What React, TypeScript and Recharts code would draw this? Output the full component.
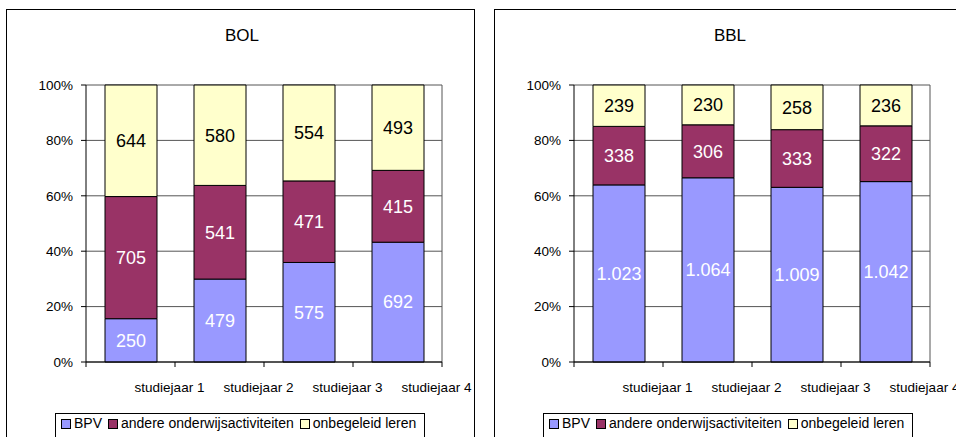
import { Bar, BarChart, CartesianGrid, LabelList, XAxis, YAxis } from "recharts";

const categories = ["studiejaar 1", "studiejaar 2", "studiejaar 3", "studiejaar 4"];
const yTicks = [0, 0.2, 0.4, 0.6, 0.8, 1];

const bolBpv = [250, 479, 575, 692];
const bolAndere = [705, 541, 471, 415];
const bolOnbegeleid = [644, 580, 554, 493];

const bblBpv = [1023, 1064, 1009, 1042];
const bblAndere = [338, 306, 333, 322];
const bblOnbegeleid = [239, 230, 258, 236];

const seriesNames = ["BPV", "andere onderwijsactiviteiten", "onbegeleid leren"];
const colors = ["#9999FF", "#993366", "#FFFFCC"];

const FONT = "'Liberation Sans', Arial, sans-serif";

function nl(v: any) {
  const n = Number(v);
  return String(n).replace(/\B(?=(\d{3})+(?!\d))/g, ".");
}

function XTick(props: any) {
  const { x, y, payload, index, band } = props;
  const half = band / 2;
  return (
    <g>
      <line x1={x - half} x2={x - half} y1={y} y2={y + 5} stroke="#000" />
      {index === categories.length - 1 && (
        <line x1={x + half} x2={x + half} y1={y} y2={y + 5} stroke="#000" />
      )}
      <text
        x={x + 39}
        y={y + 30}
        textAnchor="middle"
        fontSize={13.5}
        fontFamily={FONT}
        fill="#000"
      >
        {payload.value}
      </text>
    </g>
  );
}

function Panel({
  title,
  left,
  bpv,
  andere,
  onbegeleid,
}: {
  title: string;
  left: number;
  bpv: number[];
  andere: number[];
  onbegeleid: number[];
}) {
  const data = categories.map((c, i) => ({
    name: c,
    bpv: bpv[i],
    andere: andere[i],
    onbegeleid: onbegeleid[i],
  }));
  const plotWidth = 356;
  const band = plotWidth / categories.length;
  return (
    <div style={{ position: "absolute", left, top: 0, width: 480, height: 437 }}>
      <div
        style={{
          position: "absolute",
          left: 6,
          top: 9,
          width: 469,
          height: 440,
          border: "1px solid #000",
          boxSizing: "border-box",
        }}
      />
      <div
        style={{
          position: "absolute",
          left: 0,
          width: 484,
          top: 26,
          textAlign: "center",
          fontFamily: FONT,
          fontSize: 17,
          lineHeight: "20px",
        }}
      >
        {title}
      </div>
      <div style={{ position: "absolute", left: 0, top: 0 }}>
        <BarChart
          width={480}
          height={437}
          data={data}
          stackOffset="expand"
          barSize={52}
          margin={{ top: 85, right: 38, bottom: 45, left: 0 }}
        >
          <CartesianGrid
            stroke="#555"
            verticalCoordinatesGenerator={({ offset }: any) => [offset.left + offset.width]}
          />
          <XAxis
            dataKey="name"
            axisLine={{ stroke: "#000" }}
            tickLine={false}
            tickSize={0}
            tickMargin={0}
            height={30}
            interval={0}
            tick={(p: any) => <XTick {...p} band={band} />}
          />
          <YAxis
            width={86}
            ticks={yTicks}
            domain={[0, 1]}
            tickFormatter={(v) => `${Math.round(v * 100)}%`}
            axisLine={{ stroke: "#000" }}
            tickLine={{ stroke: "#000" }}
            tickSize={5}
            tickMargin={8}
            tick={{ fill: "#000", fontSize: 13.5, fontFamily: FONT }}
          />
          <Bar dataKey="bpv" stackId="a" fill={colors[0]} stroke="#000" isAnimationActive={false}>
            <LabelList
              dataKey="bpv"
              position="center"
              formatter={nl}
              fill="#fff"
              fontSize={18}
              fontFamily={FONT}
            />
          </Bar>
          <Bar dataKey="andere" stackId="a" fill={colors[1]} stroke="#000" isAnimationActive={false}>
            <LabelList
              dataKey="andere"
              position="center"
              formatter={nl}
              fill="#fff"
              fontSize={18}
              fontFamily={FONT}
            />
          </Bar>
          <Bar
            dataKey="onbegeleid"
            stackId="a"
            fill={colors[2]}
            stroke="#000"
            isAnimationActive={false}
          >
            <LabelList
              dataKey="onbegeleid"
              position="center"
              formatter={nl}
              fill="#000"
              fontSize={18}
              fontFamily={FONT}
            />
          </Bar>
        </BarChart>
      </div>
      <div
        style={{
          position: "absolute",
          left: 55,
          top: 413,
          width: 370,
          height: 30,
          border: "1px solid #000",
          boxSizing: "border-box",
          display: "flex",
          alignItems: "flex-start",
          paddingLeft: 5,
          paddingTop: 0,
          fontFamily: FONT,
          fontSize: 14,
          lineHeight: "18px",
          whiteSpace: "nowrap",
        }}
      >
        {seriesNames.map((s, i) => (
          <span key={s} style={{ display: "flex", alignItems: "center", marginRight: 6 }}>
            <span
              style={{
                display: "inline-block",
                width: 8,
                height: 8,
                background: colors[i],
                border: "1px solid #000",
                marginRight: 3,
                marginTop: 2,
              }}
            />
            {s}
          </span>
        ))}
      </div>
    </div>
  );
}

export default function App() {
  return (
    <div
      style={{
        position: "absolute",
        left: 0,
        top: 0,
        width: 956,
        height: 437,
        overflow: "hidden",
        background: "#fff",
      }}
    >
      <Panel title="BOL" left={0} bpv={bolBpv} andere={bolAndere} onbegeleid={bolOnbegeleid} />
      <Panel title="BBL" left={488} bpv={bblBpv} andere={bblAndere} onbegeleid={bblOnbegeleid} />
    </div>
  );
}
